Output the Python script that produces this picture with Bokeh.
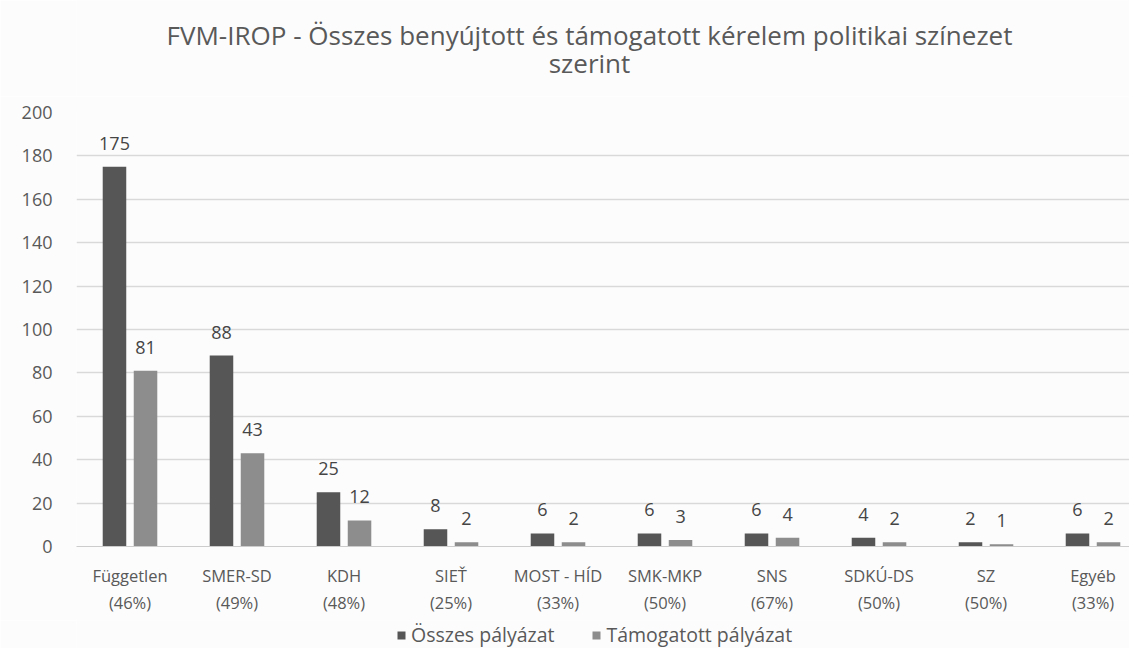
from bokeh.plotting import figure
from bokeh.models import (ColumnDataSource, Range1d, LabelSet, Legend, LegendItem,
                          FixedTicker)
from bokeh.layouts import column
from bokeh.core.properties import value
from bokeh.embed import file_html
from bokeh.resources import INLINE

categories = ["Független", "SMER-SD", "KDH", "SIEŤ", "MOST - HÍD", "SMK-MKP",
              "SNS", "SDKÚ-DS", "SZ", "Egyéb"]
percents = ["(46%)", "(49%)", "(48%)", "(25%)", "(33%)", "(50%)", "(67%)",
            "(50%)", "(50%)", "(33%)"]
osszes = [175, 88, 25, 8, 6, 6, 6, 4, 2, 6]
tamogatott = [81, 43, 12, 2, 2, 3, 4, 2, 1, 2]
series_names = ["Összes pályázat", "Támogatott pályázat"]
y_ticks = [0, 20, 40, 60, 80, 100, 120, 140, 160, 180, 200]
title_lines = ["FVM-IROP - Összes benyújtott és támogatott kérelem politikai színezet",
               "szerint"]

DARK = "#565656"
LIGHT = "#8d8d8d"
TEXT = "#595959"
BG = "#fcfcfc"
FONT = "Open Sans"
W = 1129
LEFT = 76
TITLE_H = 96


def strip(height):
    # frames in a column are aligned with the main chart's frame (starting at LEFT)
    f = figure(width=W, height=height, output_backend="svg", toolbar_location=None,
               x_range=Range1d(LEFT, W), y_range=Range1d(0, height),
               x_axis_location=None, y_axis_location=None,
               min_border_left=0, min_border_right=0, min_border_top=0,
               min_border_bottom=0, background_fill_color=BG,
               border_fill_color=BG, outline_line_color=None)
    f.grid.grid_line_color = None
    return f


# title strip
tf = strip(TITLE_H)
tf.text(x=[589, 589], y=[TITLE_H - 34, TITLE_H - 62], text=title_lines,
        text_align="center", text_baseline="middle", text_font=value(FONT),
        text_font_size="26px", text_color=TEXT)

# main chart
centers = [i + 0.5 for i in range(len(categories))]
src1 = ColumnDataSource(dict(x=[c - 0.145 for c in centers], y=osszes,
                             t=[str(v) for v in osszes]))
src2 = ColumnDataSource(dict(x=[c + 0.145 for c in centers], y=tamogatott,
                             t=[str(v) for v in tamogatott]))

p = figure(width=W, height=524, output_backend="svg", toolbar_location=None,
           x_range=Range1d(0, 9.841), y_range=Range1d(0, 200),
           min_border_left=LEFT, min_border_right=0, min_border_top=16,
           min_border_bottom=74, background_fill_color=BG,
           border_fill_color=BG, outline_line_color=None)

r1 = p.vbar(x="x", top="y", width=0.22, source=src1, fill_color=DARK, line_color=None)
r2 = p.vbar(x="x", top="y", width=0.22, source=src2, fill_color=LIGHT, line_color=None)

for s in (src1, src2):
    p.add_layout(LabelSet(x="x", y="y", text="t", source=s, text_align="center",
                          text_baseline="alphabetic", y_offset=17,
                          text_font=value(FONT), text_font_size="18px",
                          text_color="#454545"))

p.xaxis.ticker = FixedTicker(ticks=centers)
p.xaxis.major_label_overrides = {c: f"{n}\n{q}" for c, n, q in zip(centers, categories, percents)}
p.xaxis.major_tick_line_color = None
p.xaxis.minor_tick_line_color = None
p.xaxis.axis_line_color = "#cccccc"
p.xaxis.major_label_text_font = FONT
p.xaxis.major_label_text_font_size = "16.5px"
p.xaxis.major_label_text_color = TEXT
p.xaxis.major_label_standoff = 11

p.yaxis.ticker = FixedTicker(ticks=y_ticks)
p.yaxis.major_tick_line_color = None
p.yaxis.minor_tick_line_color = None
p.yaxis.axis_line_color = None
p.yaxis.major_label_text_font = FONT
p.yaxis.major_label_text_font_size = "18px"
p.yaxis.major_label_text_color = TEXT
p.yaxis.major_label_standoff = 18

p.xgrid.grid_line_color = None
p.ygrid.grid_line_color = "#d9d9d9"
p.ygrid.grid_line_width = 1.5

# legend strip
lg = strip(28)
e1 = lg.vbar(x=[-50], top=[-50], bottom=[-60], width=5, fill_color=DARK, line_color=None)
e2 = lg.vbar(x=[-50], top=[-50], bottom=[-60], width=5, fill_color=LIGHT, line_color=None)
legend = Legend(items=[LegendItem(label=series_names[0], renderers=[e1]),
                       LegendItem(label=series_names[1], renderers=[e2])],
                orientation="horizontal", location=(320, 0),
                label_text_font=FONT, label_text_font_size="19.5px",
                label_text_color=TEXT, glyph_width=10, glyph_height=10,
                spacing=37, label_standoff=5, border_line_color=None,
                background_fill_alpha=0, padding=2, margin=0)
lg.add_layout(legend, "center")

layout = column(tf, p, lg, spacing=0)
open("out.html", "w").write(file_html(layout, INLINE))
